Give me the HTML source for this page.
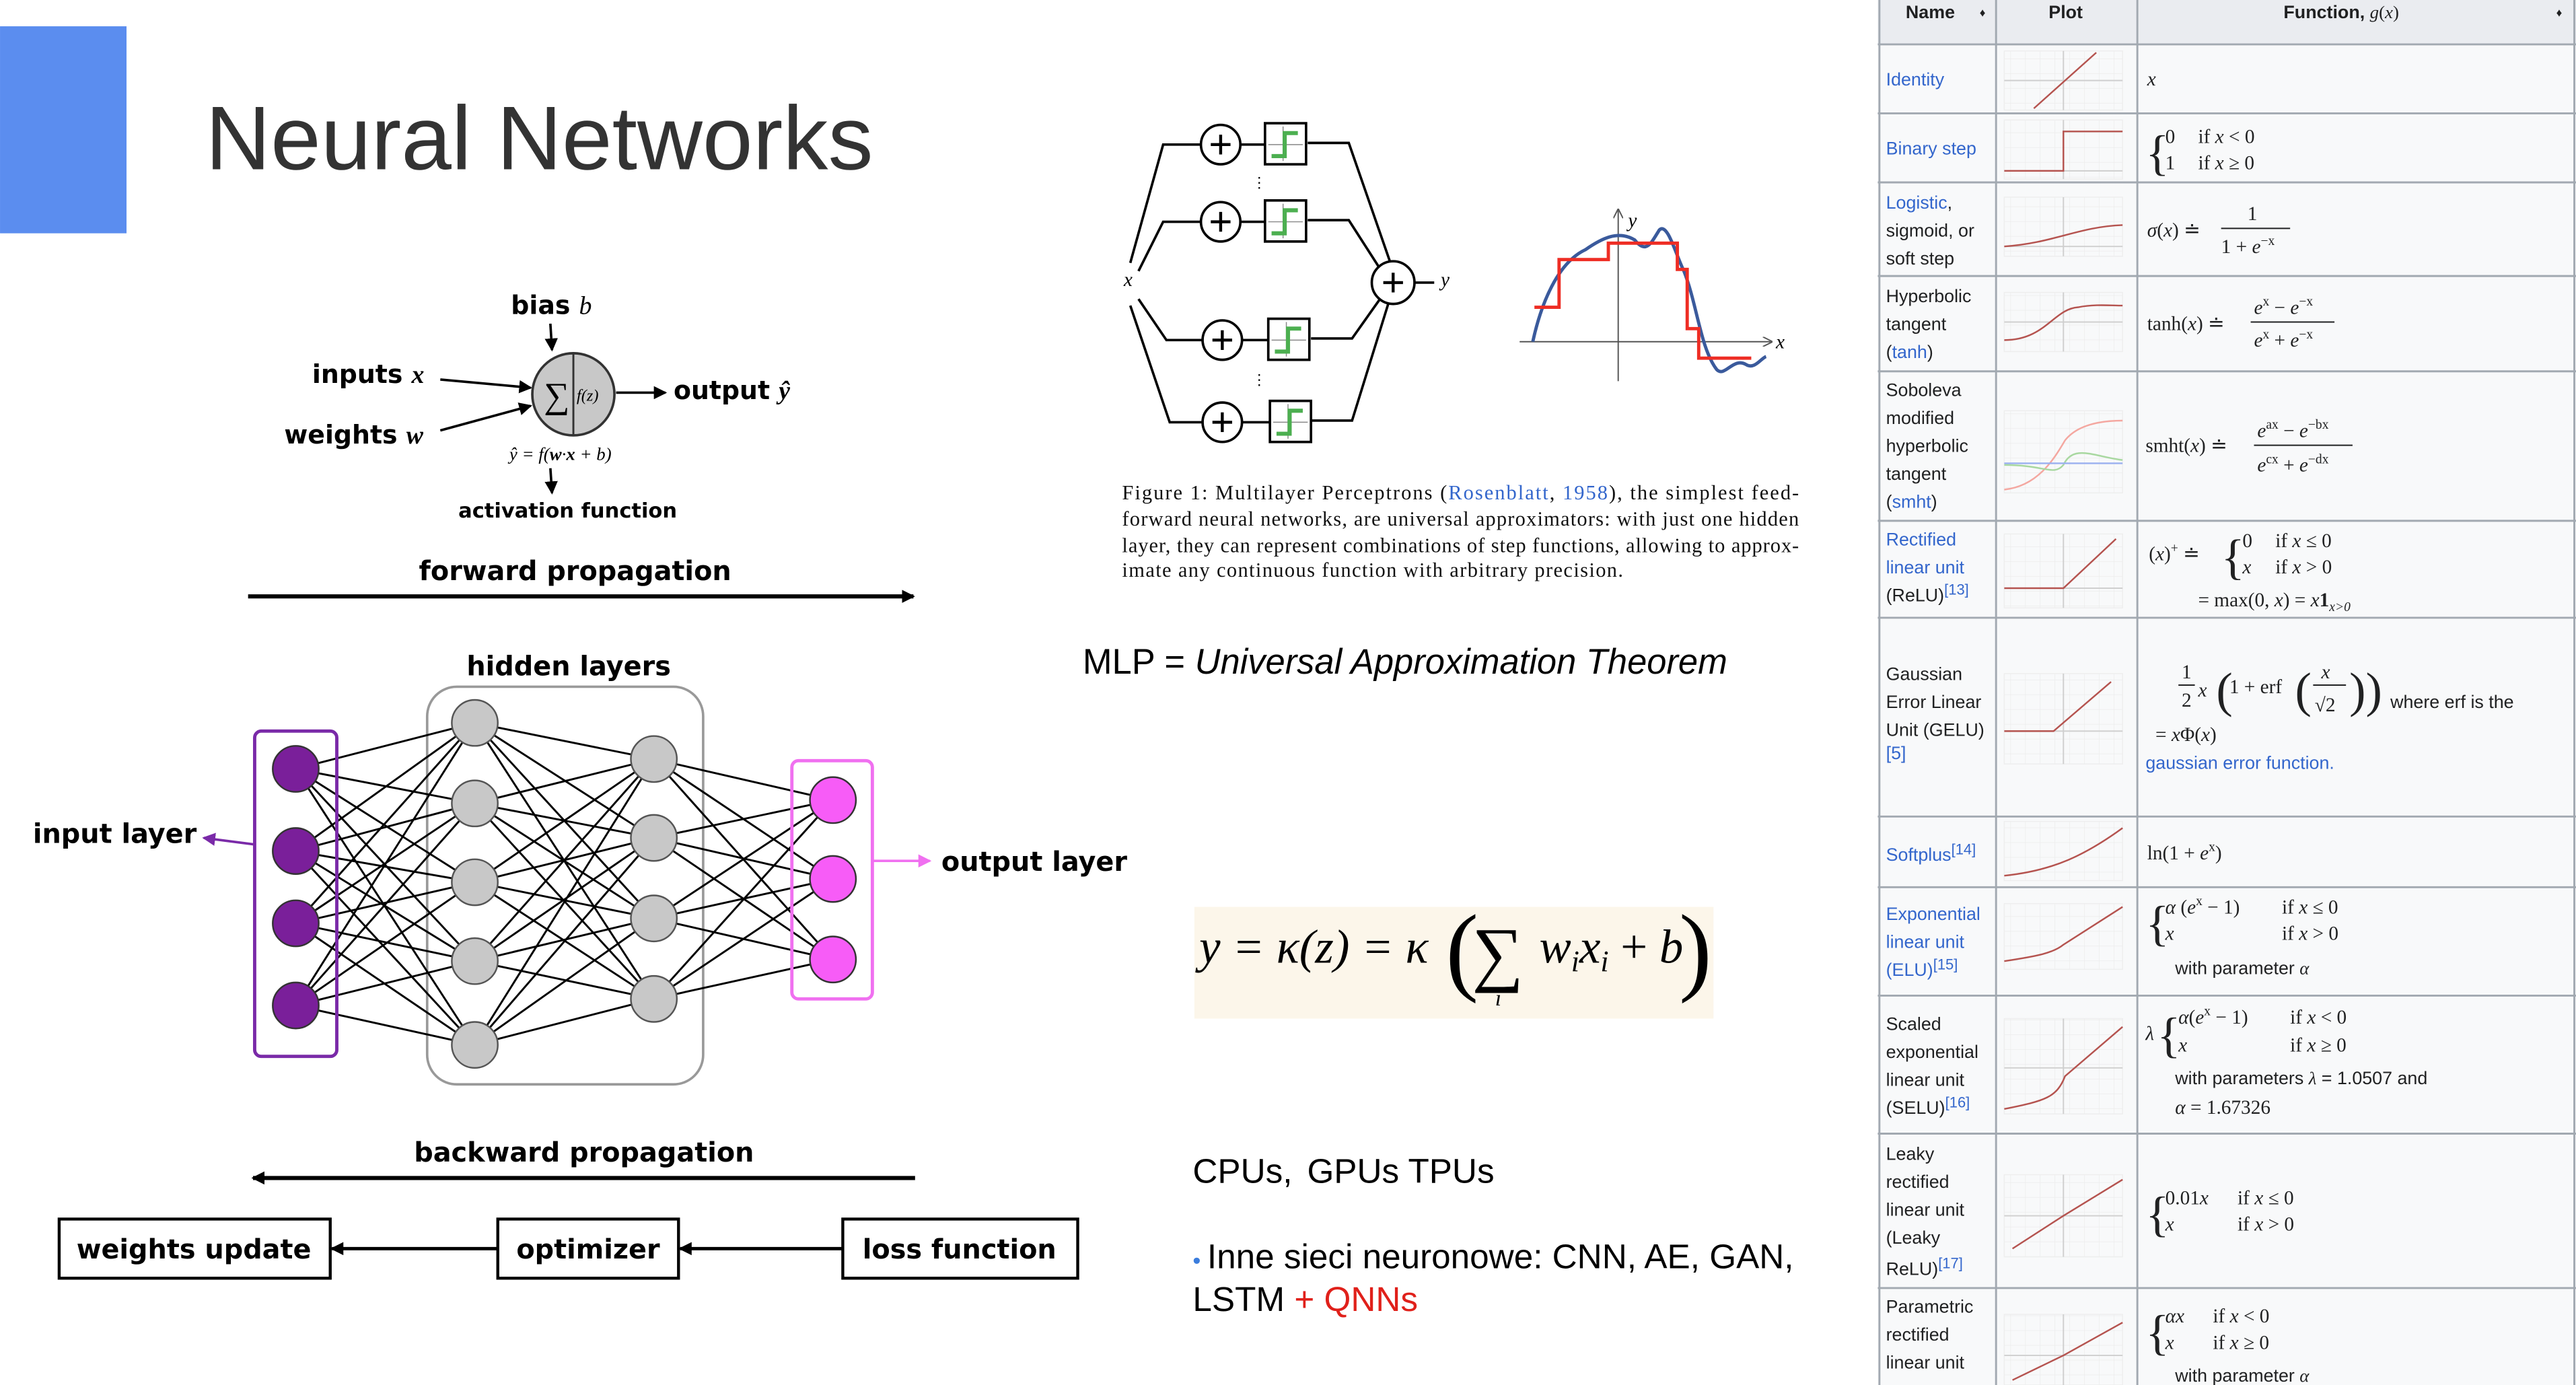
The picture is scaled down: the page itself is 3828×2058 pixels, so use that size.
<!DOCTYPE html>
<html><head><meta charset="utf-8"><style>
html,body{margin:0;padding:0;background:#fff;}
svg{display:block;}
.s{font-family:"Liberation Sans",sans-serif;}
.r{font-family:"Liberation Serif",serif;}
.b{font-family:"DejaVu Sans","Liberation Sans",sans-serif;font-weight:bold;}
.lk{fill:#3366cc;}
</style></head><body>
<svg width="3828" height="2058" viewBox="0 0 1568 843" xmlns="http://www.w3.org/2000/svg">
<defs>
<marker id="ah" markerWidth="8" markerHeight="8" refX="7" refY="4" orient="auto" markerUnits="userSpaceOnUse"><path d="M0,0 L8,4 L0,8 z" fill="#000"/></marker>
<marker id="ap" markerWidth="8" markerHeight="8" refX="7" refY="4" orient="auto" markerUnits="userSpaceOnUse"><path d="M0,0 L8,4 L0,8 z" fill="#7a2aa8"/></marker>
<marker id="am" markerWidth="8" markerHeight="8" refX="7" refY="4" orient="auto" markerUnits="userSpaceOnUse"><path d="M0,0 L8,4 L0,8 z" fill="#f070f0"/></marker>
<marker id="as" markerWidth="6" markerHeight="6" refX="5" refY="3" orient="auto" markerUnits="userSpaceOnUse"><path d="M0,0 L6,3 L0,6" fill="none" stroke="#555" stroke-width="0.8"/></marker>
<pattern id="grid" width="9" height="9" patternUnits="userSpaceOnUse"><path d="M9,0V9M0,9H9" stroke="#ececec" stroke-width="0.6" fill="none"/></pattern>
</defs>
<rect x="0" y="16" width="77" height="126" fill="#5b8def"/>
<text x="125" y="103" class="s" font-size="55" fill="#333">Neural Networks</text>

<!-- neuron -->
<text x="311" y="191" class="b" font-size="15.5">bias <tspan class="r" font-style="italic" font-weight="normal">b</tspan></text>
<line x1="335" y1="197" x2="336" y2="213" stroke="#000" stroke-width="1.5" marker-end="url(#ah)"/>
<text x="190" y="233" class="b" font-size="15.5">inputs <tspan class="r" font-style="italic">x</tspan></text>
<text x="173" y="270" class="b" font-size="15.5">weights <tspan class="r" font-style="italic">w</tspan></text>
<line x1="268" y1="231" x2="323" y2="236" stroke="#000" stroke-width="1.5" marker-end="url(#ah)"/>
<line x1="268" y1="262" x2="323" y2="247" stroke="#000" stroke-width="1.5" marker-end="url(#ah)"/>
<circle cx="349" cy="240" r="25" fill="#c8c8c8" stroke="#333" stroke-width="1.5"/>
<line x1="349" y1="215" x2="349" y2="265" stroke="#333" stroke-width="1.2"/>
<text x="331" y="248" class="r" font-size="22">∑</text>
<text x="351" y="244" class="r" font-size="10" font-style="italic">f(z)</text>
<line x1="375" y1="239" x2="405" y2="239" stroke="#000" stroke-width="1.5" marker-end="url(#ah)"/>
<text x="410" y="243" class="b" font-size="15.5">output <tspan class="r" font-style="italic">ŷ</tspan></text>
<text x="310" y="280" class="r" font-size="11" font-style="italic">ŷ = f(<tspan font-weight="bold">w</tspan>·<tspan font-weight="bold">x</tspan> + b)</text>
<line x1="335" y1="285" x2="336" y2="300" stroke="#000" stroke-width="1.5" marker-end="url(#ah)"/>
<text x="279" y="315" class="b" font-size="12.5">activation function</text>
<text x="255" y="353" class="b" font-size="16.3">forward propagation</text>
<line x1="151" y1="363" x2="556" y2="363" stroke="#000" stroke-width="2.5" marker-end="url(#ah)"/>

<!-- network -->
<text x="284" y="411" class="b" font-size="16.3">hidden layers</text>
<rect x="260" y="418" width="168" height="242" rx="18" fill="none" stroke="#999" stroke-width="1.5"/>
<g stroke="#000" stroke-width="1.2">
<path d="M180,468L289,440M180,468L289,489M180,468L289,537M180,468L289,585M180,468L289,636
M180,518L289,440M180,518L289,489M180,518L289,537M180,518L289,585M180,518L289,636
M180,562L289,440M180,562L289,489M180,562L289,537M180,562L289,585M180,562L289,636
M180,612L289,440M180,612L289,489M180,612L289,537M180,612L289,585M180,612L289,636
M289,440L398,462M289,440L398,510M289,440L398,559M289,440L398,608
M289,489L398,462M289,489L398,510M289,489L398,559M289,489L398,608
M289,537L398,462M289,537L398,510M289,537L398,559M289,537L398,608
M289,585L398,462M289,585L398,510M289,585L398,559M289,585L398,608
M289,636L398,462M289,636L398,510M289,636L398,559M289,636L398,608
M398,462L507,487M398,462L507,535M398,462L507,584
M398,510L507,487M398,510L507,535M398,510L507,584
M398,559L507,487M398,559L507,535M398,559L507,584
M398,608L507,487M398,608L507,535M398,608L507,584"/>
</g>
<rect x="155" y="445" width="50" height="198" rx="4" fill="none" stroke="#7a2aa8" stroke-width="2"/>
<rect x="482" y="463" width="49" height="145" rx="4" fill="none" stroke="#f070f0" stroke-width="2"/>
<g fill="#7a1f9a" stroke="#333" stroke-width="1"><circle cx="180" cy="468" r="14"/><circle cx="180" cy="518" r="14"/><circle cx="180" cy="562" r="14"/><circle cx="180" cy="612" r="14"/></g>
<g fill="#c8c8c8" stroke="#555" stroke-width="1"><circle cx="289" cy="440" r="14"/><circle cx="289" cy="489" r="14"/><circle cx="289" cy="537" r="14"/><circle cx="289" cy="585" r="14"/><circle cx="289" cy="636" r="14"/>
<circle cx="398" cy="462" r="14"/><circle cx="398" cy="510" r="14"/><circle cx="398" cy="559" r="14"/><circle cx="398" cy="608" r="14"/></g>
<g fill="#f75cf7" stroke="#333" stroke-width="1"><circle cx="507" cy="487" r="14"/><circle cx="507" cy="535" r="14"/><circle cx="507" cy="584" r="14"/></g>
<line x1="155" y1="514" x2="124" y2="510" stroke="#7a2aa8" stroke-width="1.5" marker-end="url(#ap)"/>
<text x="20" y="513" class="b" font-size="16.3">input layer</text>
<line x1="531" y1="524" x2="566" y2="524" stroke="#f070f0" stroke-width="1.5" marker-end="url(#am)"/>
<text x="573" y="530" class="b" font-size="16.3">output layer</text>

<text x="252" y="707" class="b" font-size="16.3">backward propagation</text>
<line x1="557" y1="717" x2="154" y2="717" stroke="#000" stroke-width="2.5" marker-end="url(#ah)"/>
<rect x="36" y="742" width="165" height="36" fill="#fff" stroke="#000" stroke-width="1.8"/>
<text x="118" y="766" class="b" font-size="16.3" text-anchor="middle">weights update</text>
<rect x="303" y="742" width="110" height="36" fill="#fff" stroke="#000" stroke-width="1.8"/>
<text x="358" y="766" class="b" font-size="16.3" text-anchor="middle">optimizer</text>
<rect x="513" y="742" width="143" height="36" fill="#fff" stroke="#000" stroke-width="1.8"/>
<text x="584" y="766" class="b" font-size="16.3" text-anchor="middle">loss function</text>
<line x1="513" y1="760" x2="414" y2="760" stroke="#000" stroke-width="2" marker-end="url(#ah)"/>
<line x1="303" y1="760" x2="202" y2="760" stroke="#000" stroke-width="2" marker-end="url(#ah)"/>

<!-- MLP figure -->
<g stroke="#000" stroke-width="1.5" fill="none">
<path d="M688,160L708,88L731,88"/><path d="M755,88L770,88"/><path d="M796,87L821,87L846,159"/>
<path d="M693,165L708,135L731,135"/><path d="M755,135L770,135"/><path d="M796,134L821,134L839,162"/>
<path d="M693,182L710,207L732,207"/><path d="M756,207L772,207"/><path d="M798,206L823,206L840,182"/>
<path d="M688,186L712,257L732,257"/><path d="M756,257L773,257"/><path d="M798,256L823,256L845,185"/>
<path d="M861,172L873,172"/>
<circle cx="743" cy="88" r="12"/><circle cx="743" cy="135" r="12"/><circle cx="744" cy="207" r="12"/><circle cx="744" cy="257" r="12"/>
<circle cx="848" cy="172" r="13"/>
<rect x="770" y="75" width="25" height="25"/><rect x="770" y="122" width="25" height="25"/><rect x="772" y="194" width="25" height="25"/><rect x="773" y="244" width="25" height="25"/>
</g>
<g stroke="#888" stroke-width="0.6"><path d="M772,88h21M781,77v21M772,135h21M781,124v21M774,207h21M783,196v21M775,257h21M784,246v21"/></g>
<g stroke="#000" stroke-width="1.8"><path d="M737,88h12M743,82v12M737,135h12M743,129v12M738,207h12M744,201v12M738,257h12M744,251v12M842,172h12M848,166v12"/></g>
<g stroke="#4caf50" stroke-width="2.5" fill="none"><path d="M774,95h8v-14h8"/><path d="M774,142h8v-14h8"/><path d="M776,214h8v-14h8"/><path d="M777,264h8v-14h8"/></g>
<g fill="#000" class="r" font-size="9"><text x="762" y="114">⋮</text><text x="762" y="234">⋮</text></g>
<text x="684" y="174" class="r" font-size="12" font-style="italic">x</text>
<text x="877" y="174" class="r" font-size="12" font-style="italic">y</text>
<line x1="925" y1="208" x2="1078" y2="208" stroke="#555" stroke-width="0.8" marker-end="url(#as)"/>
<line x1="985" y1="232" x2="985" y2="128" stroke="#555" stroke-width="0.8" marker-end="url(#as)"/>
<text x="991" y="138" class="r" font-size="12" font-style="italic">y</text>
<text x="1081" y="212" class="r" font-size="12" font-style="italic">x</text>
<path d="M933,208C938,185 948,160 965,152C975,145 985,140 995,146C1002,155 1005,148 1010,140C1015,135 1020,155 1025,165C1033,185 1035,212 1045,225C1050,230 1055,217 1063,222C1068,225 1072,218 1075,217" fill="none" stroke="#3a5a9c" stroke-width="2"/>
<path d="M934,187h15v-29h30v-10h42v16h6v36h7v18h32" fill="none" stroke="#ee2d24" stroke-width="2"/>
<g class="r" font-size="12.5" fill="#111">
<text x="683" y="304" textLength="412" lengthAdjust="spacing">Figure 1:  Multilayer Perceptrons (<tspan class="lk">Rosenblatt</tspan>, <tspan class="lk">1958</tspan>), the simplest feed-</text>
<text x="683" y="320" textLength="412" lengthAdjust="spacing">forward neural networks, are universal approximators: with just one hidden</text>
<text x="683" y="336" textLength="412" lengthAdjust="spacing">layer, they can represent combinations of step functions, allowing to approx-</text>
<text x="683" y="351" textLength="305" lengthAdjust="spacing">imate any continuous function with arbitrary precision.</text></g>

<text x="659" y="410" class="s" font-size="21.5">MLP = <tspan font-style="italic">Universal Approximation Theorem</tspan></text>
<rect x="727" y="552" width="316" height="68" fill="#fcf6ea"/>
<text x="730" y="586" class="r" font-size="29" font-style="italic">y = κ(z) = κ</text>
<text x="880" y="598" class="r" font-size="60">(</text>
<text x="896" y="595" class="r" font-size="44">∑</text>
<text x="910" y="612" class="r" font-size="14" font-style="italic">i</text>
<text x="937" y="586" class="r" font-size="29" font-style="italic">w<tspan font-size="18" dy="5">i</tspan><tspan dy="-5">x</tspan><tspan font-size="18" dy="5">i</tspan><tspan dy="-5" font-style="normal"> + </tspan>b</text>
<text x="1022" y="598" class="r" font-size="60">)</text>

<text x="726" y="720" class="s" font-size="21">CPUs,<tspan dx="9">GPUs TPUs</tspan></text>
<text x="726" y="772" class="s" font-size="21"><tspan fill="#3b7ddd" font-size="14">• </tspan>Inne sieci neuronowe: CNN, AE, GAN,</text>
<text x="726" y="798" class="s" font-size="21">LSTM <tspan fill="#e0201a">+ QNNs</tspan></text>

<!-- table -->
<rect x="1143" y="0" width="425" height="843" fill="#f8f9fa"/>
<rect x="1143" y="0" width="425" height="27" fill="#eaecf0"/>
<g stroke="#a2a9b1" stroke-width="1.2">
<path d="M1144,0V843M1215,0V843M1301,0V843M1567,0V843"/>
<path d="M1143,27H1568M1143,69H1568M1143,111H1568M1143,168H1568M1143,226H1568M1143,317H1568M1143,376H1568M1143,497H1568M1143,540H1568M1143,606H1568M1143,690H1568M1143,784H1568"/>
</g>
<g class="s" font-size="11" font-weight="bold" fill="#202122"><text x="1160" y="11">Name</text><text x="1205" y="10" font-size="7">♦</text><text x="1247" y="11">Plot</text><text x="1390" y="11">Function, <tspan class="r" font-style="italic" font-weight="normal">g</tspan><tspan class="r" font-weight="normal">(</tspan><tspan class="r" font-style="italic" font-weight="normal">x</tspan><tspan class="r" font-weight="normal">)</tspan></text><text x="1556" y="10" font-size="7">♦</text></g>
<g class="s" font-size="11" fill="#202122">
<text x="1148" y="52" class="lk">Identity</text>
<text x="1148" y="94" class="lk">Binary step</text>
<text x="1148" y="127"><tspan class="lk">Logistic</tspan>,</text><text x="1148" y="144">sigmoid, or</text><text x="1148" y="161">soft step</text>
<text x="1148" y="184">Hyperbolic</text><text x="1148" y="201">tangent</text><text x="1148" y="218">(<tspan class="lk">tanh</tspan>)</text>
<text x="1148" y="241">Soboleva</text><text x="1148" y="258">modified</text><text x="1148" y="275">hyperbolic</text><text x="1148" y="292">tangent</text><text x="1148" y="309">(<tspan class="lk">smht</tspan>)</text>
<text x="1148" y="332" class="lk">Rectified</text><text x="1148" y="349" class="lk">linear unit</text><text x="1148" y="366">(ReLU)<tspan class="lk" font-size="9" dy="-4">[13]</tspan></text>
<text x="1148" y="414">Gaussian</text><text x="1148" y="431">Error Linear</text><text x="1148" y="448">Unit (GELU)</text><text x="1148" y="462" class="lk">[5]</text>
<text x="1148" y="524" class="lk">Softplus<tspan font-size="9" dy="-4">[14]</tspan></text>
<text x="1148" y="560" class="lk">Exponential</text><text x="1148" y="577" class="lk">linear unit</text><text x="1148" y="594" class="lk">(ELU)<tspan font-size="9" dy="-4">[15]</tspan></text>
<text x="1148" y="627">Scaled</text><text x="1148" y="644">exponential</text><text x="1148" y="661">linear unit</text><text x="1148" y="678">(SELU)<tspan class="lk" font-size="9" dy="-4">[16]</tspan></text>
<text x="1148" y="706">Leaky</text><text x="1148" y="723">rectified</text><text x="1148" y="740">linear unit</text><text x="1148" y="757">(Leaky</text><text x="1148" y="776">ReLU)<tspan class="lk" font-size="9" dy="-4">[17]</tspan></text>
<text x="1148" y="799">Parametric</text><text x="1148" y="816">rectified</text><text x="1148" y="833">linear unit</text>
</g>
<!-- plots -->
<g fill="url(#grid)" stroke="#eee" stroke-width="0.6">
<rect x="1220" y="31" width="72" height="36"/><rect x="1220" y="73" width="72" height="36"/><rect x="1220" y="120" width="72" height="36"/><rect x="1220" y="178" width="72" height="36"/><rect x="1220" y="250" width="72" height="50"/><rect x="1220" y="325" width="72" height="45"/><rect x="1220" y="410" width="72" height="55"/><rect x="1220" y="500" width="72" height="36"/><rect x="1220" y="550" width="72" height="40"/><rect x="1220" y="620" width="72" height="58"/><rect x="1220" y="715" width="72" height="50"/><rect x="1220" y="800" width="72" height="43"/>
</g>
<g stroke="#cfcfcf" stroke-width="0.8"><path d="M1256,31V67M1220,49H1292M1256,73V109M1220,104H1292M1256,120V156M1220,150H1292M1256,178V214M1220,196H1292M1256,325V370M1220,358H1292M1256,410V465M1220,445H1292M1256,620V678M1220,650H1292M1256,715V765M1220,740H1292M1256,800V843M1220,825H1292"/></g>
<g fill="none" stroke="#b5534f" stroke-width="1">
<path d="M1238,66L1276,32"/><path d="M1220,104H1256V80H1292"/><path d="M1220,150C1250,148 1265,138 1292,137"/><path d="M1220,207C1245,207 1250,188 1265,187C1275,185 1285,186 1292,186"/><path d="M1220,298C1240,296 1250,280 1257,268C1265,258 1280,256 1292,256" stroke="#f4a7a0"/><path d="M1220,283C1245,283 1250,290 1256,283C1262,270 1275,278 1292,280" stroke="#a8d8a0"/><path d="M1220,282H1292" stroke="#9ab0f0"/><path d="M1220,358H1256L1288,328"/><path d="M1220,445H1250L1285,415"/><path d="M1220,533C1250,530 1270,520 1292,504"/><path d="M1220,585C1240,582 1250,580 1256,575L1292,552"/><path d="M1220,675C1245,670 1252,668 1257,655L1292,625"/><path d="M1225,760L1256,740L1292,718"/><path d="M1225,840L1256,825L1292,805"/>
</g>
<!-- formulas -->
<g class="r" font-size="12" fill="#202122">
<text x="1307" y="52" font-style="italic">x</text>
<text x="1306" y="103" font-size="30" font-weight="lighter">{</text><text x="1318" y="87">0</text><text x="1338" y="87">if <tspan font-style="italic">x</tspan> &lt; 0</text><text x="1318" y="103">1</text><text x="1338" y="103">if <tspan font-style="italic">x</tspan> ≥ 0</text>
<text x="1307" y="144"><tspan font-style="italic">σ</tspan>(<tspan font-style="italic">x</tspan>) ≐</text><text x="1368" y="134">1</text><line x1="1352" y1="139" x2="1394" y2="139" stroke="#202122" stroke-width="0.8"/><text x="1352" y="154">1 + <tspan font-style="italic">e</tspan><tspan font-size="8" dy="-5">−x</tspan></text>
<text x="1307" y="201">tanh(<tspan font-style="italic">x</tspan>) ≐</text><text x="1372" y="191"><tspan font-style="italic">e</tspan><tspan font-size="8" dy="-5">x</tspan><tspan dy="5"> − </tspan><tspan font-style="italic">e</tspan><tspan font-size="8" dy="-5">−x</tspan></text><line x1="1370" y1="196" x2="1421" y2="196" stroke="#202122" stroke-width="0.8"/><text x="1372" y="211"><tspan font-style="italic">e</tspan><tspan font-size="8" dy="-5">x</tspan><tspan dy="5"> + </tspan><tspan font-style="italic">e</tspan><tspan font-size="8" dy="-5">−x</tspan></text>
<text x="1306" y="275">smht(<tspan font-style="italic">x</tspan>) ≐</text><text x="1374" y="266"><tspan font-style="italic">e</tspan><tspan font-size="8" dy="-5">ax</tspan><tspan dy="5"> − </tspan><tspan font-style="italic">e</tspan><tspan font-size="8" dy="-5">−bx</tspan></text><line x1="1372" y1="271" x2="1432" y2="271" stroke="#202122" stroke-width="0.8"/><text x="1374" y="287"><tspan font-style="italic">e</tspan><tspan font-size="8" dy="-5">cx</tspan><tspan dy="5"> + </tspan><tspan font-style="italic">e</tspan><tspan font-size="8" dy="-5">−dx</tspan></text>
<text x="1308" y="341">(<tspan font-style="italic">x</tspan>)<tspan font-size="8" dy="-5">+</tspan><tspan dy="5"> ≐</tspan></text><text x="1352" y="349" font-size="30" font-weight="lighter">{</text><text x="1365" y="333">0</text><text x="1385" y="333">if <tspan font-style="italic">x</tspan> ≤ 0</text><text x="1365" y="349" font-style="italic">x</text><text x="1385" y="349">if <tspan font-style="italic">x</tspan> &gt; 0</text><text x="1338" y="369">= max(0, <tspan font-style="italic">x</tspan>) = <tspan font-style="italic">x</tspan><tspan font-weight="bold">1</tspan><tspan font-size="8" dy="3" font-style="italic">x&gt;0</tspan></text>
<text x="1328" y="413">1</text><line x1="1326" y1="417" x2="1336" y2="417" stroke="#202122" stroke-width="0.8"/><text x="1328" y="430">2</text><text x="1338" y="424"><tspan font-style="italic">x</tspan></text><text x="1349" y="430" font-size="30" font-weight="lighter">(</text><text x="1357" y="422">1 + erf</text><text x="1397" y="430" font-size="30" font-weight="lighter">(</text><text x="1413" y="413" font-style="italic">x</text><line x1="1408" y1="417" x2="1428" y2="417" stroke="#202122" stroke-width="0.8"/><text x="1409" y="433">√2</text><text x="1430" y="430" font-size="30" font-weight="lighter">))</text>
<text x="1312" y="451">= <tspan font-style="italic">x</tspan>Φ(<tspan font-style="italic">x</tspan>)</text>
<text x="1307" y="523">ln(1 + <tspan font-style="italic">e</tspan><tspan font-size="8" dy="-5">x</tspan><tspan dy="5">)</tspan></text>
<text x="1306" y="572" font-size="30" font-weight="lighter">{</text><text x="1318" y="556"><tspan font-style="italic">α</tspan> (<tspan font-style="italic">e</tspan><tspan font-size="8" dy="-5">x</tspan><tspan dy="5"> − 1)</tspan></text><text x="1389" y="556">if <tspan font-style="italic">x</tspan> ≤ 0</text><text x="1318" y="572" font-style="italic">x</text><text x="1389" y="572">if <tspan font-style="italic">x</tspan> &gt; 0</text>
<text x="1306" y="633"><tspan font-style="italic">λ</tspan></text><text x="1313" y="640" font-size="30" font-weight="lighter">{</text><text x="1326" y="623"><tspan font-style="italic">α</tspan>(<tspan font-style="italic">e</tspan><tspan font-size="8" dy="-5">x</tspan><tspan dy="5"> − 1)</tspan></text><text x="1394" y="623">if <tspan font-style="italic">x</tspan> &lt; 0</text><text x="1326" y="640" font-style="italic">x</text><text x="1394" y="640">if <tspan font-style="italic">x</tspan> ≥ 0</text>
<text x="1324" y="678"><tspan font-style="italic">α</tspan> = 1.67326</text>
<text x="1306" y="749" font-size="30" font-weight="lighter">{</text><text x="1318" y="733">0.01<tspan font-style="italic">x</tspan></text><text x="1362" y="733">if <tspan font-style="italic">x</tspan> ≤ 0</text><text x="1318" y="749" font-style="italic">x</text><text x="1362" y="749">if <tspan font-style="italic">x</tspan> &gt; 0</text>
<text x="1306" y="821" font-size="30" font-weight="lighter">{</text><text x="1318" y="805" font-style="italic">αx</text><text x="1347" y="805">if <tspan font-style="italic">x</tspan> &lt; 0</text><text x="1318" y="821" font-style="italic">x</text><text x="1347" y="821">if <tspan font-style="italic">x</tspan> ≥ 0</text>
</g>
<g class="s" font-size="11" fill="#202122">
<text x="1455" y="431">where erf is the</text>
<text x="1306" y="468" class="lk">gaussian error function.</text>
<text x="1324" y="593">with parameter <tspan class="r" font-style="italic">α</tspan></text>
<text x="1324" y="660">with parameters <tspan class="r" font-style="italic">λ</tspan> = 1.0507 and</text>
<text x="1324" y="841">with parameter <tspan class="r" font-style="italic">α</tspan></text>
</g>
</svg>
</body></html>
